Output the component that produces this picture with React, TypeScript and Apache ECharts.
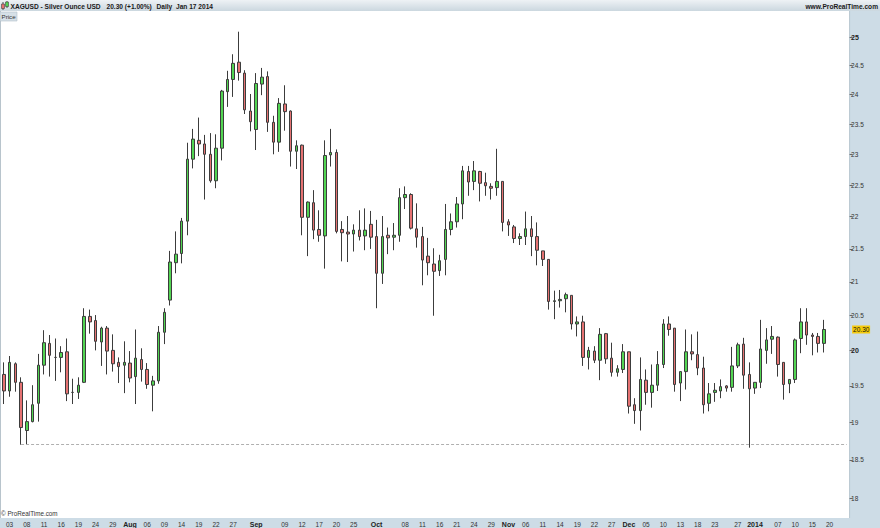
import React, { useEffect, useRef } from "react";
import * as echarts from "echarts";

// ---- Trading days (categories) ----
const julDays = [2, 3, 4, 5, 8, 9, 10, 11, 12, 15, 16, 17, 18, 19, 22, 23, 24, 25, 26, 29, 30, 31];
const augDays = [1, 2, 5, 6, 7, 8, 9, 12, 13, 14, 15, 16, 19, 20, 21, 22, 23, 26, 27, 28, 29, 30];
const sepDays = [2, 3, 4, 5, 6, 9, 10, 11, 12, 13, 16, 17, 18, 19, 20, 23, 24, 25, 26, 27, 30];
const octDays = [1, 2, 3, 4, 7, 8, 9, 10, 11, 14, 15, 16, 17, 18, 21, 22, 23, 24, 25, 28, 29, 30, 31];
const novDays = [1, 4, 5, 6, 7, 8, 11, 12, 13, 14, 15, 18, 19, 20, 21, 22, 25, 26, 27, 28, 29];
const decDays = [2, 3, 4, 5, 6, 9, 10, 11, 12, 13, 16, 17, 18, 19, 20, 23, 24, 25, 26, 27, 30, 31];
const janDays = [1, 2, 3, 6, 7, 8, 9, 10, 13, 14, 15, 16, 17, 20, 21, 22, 23];

// ---- OHLC values: [open, close, low, high] ----
const jul2013 = [
  [19.66, 19.43, 19.25, 19.83], [19.43, 19.83, 19.35, 19.92], [19.81, 19.55, 19.42, 19.83],
  [19.55, 18.93, 18.70, 19.62], [18.89, 19.01, 18.70, 19.30], [19.01, 19.24, 19.00, 19.51],
  [19.26, 19.79, 19.01, 19.95], [19.79, 20.11, 19.66, 20.29], [20.10, 19.93, 19.63, 20.22],
  [19.90, 19.90, 19.57, 20.17], [19.90, 19.97, 19.69, 20.06], [19.98, 19.39, 19.29, 20.17],
  [19.41, 19.41, 19.25, 19.60], [19.41, 19.51, 19.32, 19.62], [19.55, 20.49, 19.54, 20.61],
  [20.49, 20.41, 20.24, 20.59], [20.43, 20.13, 20.00, 20.51], [20.12, 20.32, 19.78, 20.34],
  [20.32, 19.99, 19.66, 20.35], [20.00, 19.81, 19.70, 20.23], [19.83, 19.77, 19.54, 19.90],
  [19.79, 19.83, 19.40, 20.13],
];
const aug2013 = [
  [19.82, 19.61, 19.55, 19.99], [19.63, 19.89, 19.25, 20.30], [19.87, 19.73, 19.56, 20.03],
  [19.73, 19.52, 19.46, 19.82], [19.51, 19.57, 19.15, 19.64], [19.57, 20.26, 19.53, 20.35],
  [20.26, 20.55, 20.09, 20.61], [20.73, 21.30, 20.65, 21.47], [21.29, 21.42, 21.13, 21.77],
  [21.43, 21.93, 21.28, 21.98], [21.93, 22.92, 21.71, 23.19], [22.92, 23.25, 22.77, 23.42],
  [23.23, 23.17, 22.97, 23.61], [23.17, 23.00, 22.27, 23.32], [23.00, 22.57, 22.54, 23.35],
  [22.57, 23.10, 22.45, 23.33], [23.10, 24.06, 22.90, 24.08], [24.05, 24.26, 23.79, 24.41],
  [24.26, 24.54, 23.96, 24.70], [24.56, 24.38, 24.24, 25.10], [24.37, 23.74, 23.67, 24.42],
  [23.72, 23.54, 23.38, 24.01],
];
const sep2013 = [
  [23.41, 24.19, 23.07, 24.37], [24.18, 24.30, 23.99, 24.46], [24.31, 23.53, 23.37, 24.40],
  [23.53, 23.20, 23.00, 23.64], [23.20, 23.85, 23.04, 23.94], [23.84, 23.71, 23.39, 24.16],
  [23.72, 23.05, 22.80, 23.73], [23.05, 23.14, 22.76, 23.23], [23.15, 21.99, 21.71, 23.16],
  [21.99, 22.23, 21.39, 22.24], [22.22, 21.79, 21.65, 22.42], [21.80, 21.71, 21.61, 22.10],
  [21.70, 22.98, 21.20, 23.23], [22.99, 23.03, 22.80, 23.42], [23.03, 21.77, 21.74, 23.08],
  [21.80, 21.75, 21.31, 21.93], [21.76, 21.73, 21.30, 22.01], [21.73, 21.79, 21.46, 21.88],
  [21.79, 21.69, 21.63, 22.10], [21.70, 21.79, 21.48, 22.13], [21.88, 21.68, 21.50, 22.09],
];
const oct2013 = [
  [21.69, 21.13, 20.61, 21.95], [21.13, 21.69, 20.97, 22.01], [21.71, 21.67, 21.42, 21.83],
  [21.68, 21.71, 21.48, 21.90], [21.71, 22.30, 21.61, 22.45], [22.30, 22.35, 22.12, 22.48],
  [22.35, 21.82, 21.80, 22.37], [21.81, 21.68, 21.52, 22.21], [21.69, 21.33, 20.95, 21.84],
  [21.39, 21.29, 21.10, 21.67], [21.27, 21.16, 20.50, 21.51], [21.17, 21.32, 21.09, 21.41],
  [21.34, 21.80, 21.10, 22.20], [21.80, 21.92, 21.71, 22.05], [21.92, 22.20, 21.83, 22.31],
  [22.20, 22.73, 21.96, 22.81], [22.72, 22.55, 22.33, 22.81], [22.56, 22.73, 22.42, 22.89],
  [22.72, 22.53, 22.24, 22.73], [22.54, 22.49, 22.33, 22.70], [22.48, 22.45, 22.27, 22.53],
  [22.46, 22.56, 22.33, 23.09], [22.56, 21.91, 21.77, 22.56],
];
const nov2013 = [
  [21.92, 21.87, 21.70, 21.96], [21.84, 21.66, 21.59, 21.87], [21.66, 21.69, 21.56, 21.74],
  [21.69, 21.81, 21.56, 22.08], [21.81, 21.69, 21.39, 22.01], [21.69, 21.48, 21.25, 21.91],
  [21.47, 21.34, 21.24, 21.47], [21.34, 20.71, 20.59, 21.34], [20.71, 20.72, 20.45, 20.87],
  [20.72, 20.74, 20.62, 20.88], [20.75, 20.81, 20.55, 20.84], [20.80, 20.38, 20.30, 20.80],
  [20.38, 20.41, 20.20, 20.49], [20.41, 19.90, 19.78, 20.50], [19.90, 20.00, 19.73, 20.05],
  [19.99, 19.86, 19.82, 20.06], [19.86, 20.23, 19.58, 20.32], [20.24, 19.88, 19.81, 20.25],
  [19.89, 19.69, 19.63, 20.11], [19.69, 19.74, 19.63, 19.79], [19.73, 19.98, 19.68, 20.09],
];
const dec2013 = [
  [19.98, 19.22, 19.12, 19.98], [19.24, 19.16, 18.98, 19.33], [19.16, 19.59, 18.89, 19.90],
  [19.58, 19.41, 19.24, 19.73], [19.41, 19.51, 19.20, 19.80], [19.51, 19.80, 19.43, 19.99],
  [19.80, 20.38, 19.75, 20.45], [20.38, 20.30, 20.21, 20.49], [20.32, 19.52, 19.42, 20.32],
  [19.54, 19.70, 19.29, 19.70], [19.70, 19.98, 19.45, 20.30], [19.98, 19.95, 19.86, 20.23],
  [19.94, 19.75, 19.65, 20.27], [19.75, 19.24, 19.12, 19.91], [19.26, 19.39, 19.15, 19.54],
  [19.41, 19.44, 19.28, 19.54], [19.43, 19.49, 19.33, 19.59], [19.50, 19.47, 19.42, 19.51],
  [19.48, 19.78, 19.42, 20.05], [19.78, 20.08, 19.75, 20.11], [20.09, 19.65, 19.46, 20.18],
  [19.66, 19.46, 18.66, 19.83],
];
const jan2014 = [
  [19.47, 19.55, 19.39, 19.55], [19.55, 20.02, 19.47, 20.44], [20.00, 20.15, 19.81, 20.32],
  [20.16, 20.20, 19.95, 20.35], [20.19, 19.80, 19.63, 20.20], [19.83, 19.52, 19.31, 19.83],
  [19.53, 19.59, 19.40, 19.59], [19.59, 20.15, 19.54, 20.17], [20.17, 20.41, 19.96, 20.61],
  [20.41, 20.22, 20.08, 20.61], [20.22, 20.20, 19.93, 20.25], [20.20, 20.10, 19.97, 20.25],
  [20.10, 20.30, 19.97, 20.44],
];

// ---- Axis tick labels ----
const yTicks = [18, 18.5, 19, 19.5, 20, 20.5, 21, 21.5, 22, 22.5, 23, 23.5, 24, 24.5, 25];
const yBoldTicks = [20, 25];
const xTickDates = [
  "2013-07-03", "2013-07-08", "2013-07-11", "2013-07-16", "2013-07-19", "2013-07-24", "2013-07-29",
  "2013-08-01", "2013-08-06", "2013-08-09", "2013-08-14", "2013-08-19", "2013-08-22", "2013-08-27",
  "2013-09-02", "2013-09-09", "2013-09-12", "2013-09-17", "2013-09-20", "2013-09-25",
  "2013-10-01", "2013-10-08", "2013-10-11", "2013-10-16", "2013-10-21", "2013-10-24", "2013-10-29",
  "2013-11-01", "2013-11-06", "2013-11-11", "2013-11-14", "2013-11-19", "2013-11-22", "2013-11-27",
  "2013-12-02", "2013-12-05", "2013-12-10", "2013-12-13", "2013-12-18", "2013-12-23", "2013-12-27",
  "2014-01-01", "2014-01-07", "2014-01-10", "2014-01-15", "2014-01-20",
];
const xTickTexts = [
  "03", "08", "11", "16", "19", "24", "29",
  "Aug", "06", "09", "14", "19", "22", "27",
  "Sep", "09", "12", "17", "20", "25",
  "Oct", "08", "11", "16", "21", "24", "29",
  "Nov", "06", "11", "14", "19", "22", "27",
  "Dec", "05", "10", "13", "18", "23", "27",
  "2014", "07", "10", "15", "20",
];

const pad = (n: number) => (n < 10 ? "0" + n : "" + n);
const monthDays: [number, number, number[]][] = [
  [2013, 7, julDays], [2013, 8, augDays], [2013, 9, sepDays], [2013, 10, octDays],
  [2013, 11, novDays], [2013, 12, decDays], [2014, 1, janDays],
];
const categories: string[] = [];
monthDays.forEach(([y, m, days]) => days.forEach((d) => categories.push(`${y}-${pad(m)}-${pad(d)}`)));
const ohlc = [...jul2013, ...aug2013, ...sep2013, ...oct2013, ...nov2013, ...dec2013, ...jan2014];

const FONT = "'Liberation Sans', Arial, Helvetica, sans-serif";
const PANEL = "#cddce6";

export default function App() {
  const ref = useRef<HTMLDivElement>(null);
  useEffect(() => {
    if (!ref.current) return;
    const chart = echarts.init(ref.current, undefined, { renderer: "svg" });
    const tickMap = new Map<string, string>();
    xTickDates.forEach((d, i) => tickMap.set(d, xTickTexts[i]));
    const supportLow = ohlc[3][2];
    const lastIdx = ohlc.length - 1;
    const lastClose = ohlc[lastIdx][1];

    const gridLeft = 1;
    const gridTop = 11;
    const gridWidth = 848.6;
    const gridHeight = 507;
    const gridRight = gridLeft + gridWidth;

    chart.setOption({
      animation: false,
      backgroundColor: "#ffffff",
      grid: { left: gridLeft, top: gridTop, width: gridWidth, height: gridHeight, containLabel: false },
      xAxis: {
        type: "category",
        data: categories,
        boundaryGap: true,
        axisLine: { show: false },
        axisTick: { show: false },
        splitLine: { show: false },
        axisLabel: {
          interval: (_i: number, v: string) => tickMap.has(v),
          formatter: (v: string) => {
            const t = tickMap.get(v) || "";
            return /^\d\d$/.test(t) ? t : `{b|${t}}`;
          },
          fontSize: 6.5,
          fontFamily: FONT,
          color: "#333",
          margin: 3,
          rich: { b: { fontWeight: "bold", fontSize: 7, fontFamily: FONT, color: "#222" } },
        },
      },
      yAxis: {
        type: "log",
        logBase: 10,
        position: "right",
        min: 17.748,
        max: 25.473,
        axisLine: { show: false },
        splitLine: { show: false },
        axisTick: { show: true, length: 3, customValues: yTicks, lineStyle: { color: "#666", width: 1 } },
        axisLabel: {
          customValues: yTicks,
          margin: 1.5,
          fontSize: 6.5,
          fontFamily: FONT,
          color: "#333",
          formatter: (v: number) => (yBoldTicks.indexOf(v) >= 0 ? `{b|${v}}` : `${v}`),
          rich: { b: { fontWeight: "bold", fontSize: 7, fontFamily: FONT, color: "#222" } },
        },
      },
      series: [
        {
          type: "candlestick",
          data: ohlc,
          barWidth: 3,
          silent: true,
          itemStyle: {
            color: "#52d452",
            color0: "#e57272",
            borderColor: "#3c3c3c",
            borderColor0: "#3c3c3c",
            borderWidth: 1,
          },
          markLine: {
            silent: true,
            symbol: ["none", "none"],
            label: { show: false },
            lineStyle: { color: "#b0b0b0", type: [3, 2], width: 1 },
            data: [[{ coord: [categories[3], supportLow] }, { coord: [categories[categories.length - 1], supportLow] }]],
          },
        },
        {
          type: "custom",
          silent: true,
          z: 10,
          data: [[lastIdx, lastClose]],
          renderItem: (params: any, api: any) => {
            const pt = api.coord([api.value(0), api.value(1)]);
            const cs = params.coordSys;
            const x0 = cs.x + cs.width + 2.5;
            return {
              type: "group",
              children: [
                { type: "rect", shape: { x: x0, y: pt[1] - 4, width: 18, height: 8 }, style: { fill: "#f5cb0c" } },
                {
                  type: "text",
                  style: {
                    x: x0 + 1, y: pt[1] + 0.5, text: api.value(1).toFixed(2),
                    fontSize: 6.5, fontFamily: FONT, fill: "#111",
                    verticalAlign: "middle", textVerticalAlign: "middle",
                  },
                },
              ],
            };
          },
        },
      ],
      graphic: [
        {
          type: "rect", z: -10, silent: true,
          shape: { x: 0, y: 0, width: 880, height: 11 },
          style: {
            fill: new echarts.graphic.LinearGradient(0, 0, 0, 1, [
              { offset: 0, color: "#eef2f5" },
              { offset: 1, color: "#cbd7df" },
            ]),
          },
        },
        { type: "rect", z: -10, silent: true, shape: { x: gridRight, y: 11, width: 880 - gridRight, height: 517 }, style: { fill: PANEL } },
        { type: "rect", z: -10, silent: true, shape: { x: 0, y: 518, width: 880, height: 10 }, style: { fill: PANEL } },
        { type: "line", z: -9, silent: true, shape: { x1: 0.5, y1: 11, x2: 0.5, y2: 518 }, style: { stroke: "#b8c4cc", lineWidth: 1 } },
        { type: "line", z: -9, silent: true, shape: { x1: gridRight, y1: 11, x2: gridRight, y2: 518 }, style: { stroke: "#b8c6d0", lineWidth: 1 } },
        // header icon
        { type: "line", silent: true, shape: { x1: 3, y1: 2, x2: 3, y2: 10 }, style: { stroke: "#555", lineWidth: 1 } },
        { type: "rect", silent: true, shape: { x: 1.5, y: 4, width: 3, height: 4.5 }, style: { fill: "#e57272", stroke: "#444", lineWidth: 0.6 } },
        { type: "line", silent: true, shape: { x1: 7, y1: 1, x2: 7, y2: 8 }, style: { stroke: "#555", lineWidth: 1 } },
        { type: "rect", silent: true, shape: { x: 5.5, y: 2, width: 3, height: 4.5 }, style: { fill: "#52d452", stroke: "#444", lineWidth: 0.6 } },
        // header texts
        { type: "text", silent: true, style: { x: 10.5, y: 6, text: "XAGUSD - Silver Ounce USD", fontSize: 6.6, fontWeight: "bold", fontFamily: FONT, fill: "#1a1a1a", textVerticalAlign: "middle", verticalAlign: "middle" } },
        { type: "text", silent: true, style: { x: 106.5, y: 6, text: "20.30 (+1.00%)", fontSize: 6.6, fontWeight: "bold", fontFamily: FONT, fill: "#1a1a1a", textVerticalAlign: "middle", verticalAlign: "middle" } },
        { type: "text", silent: true, style: { x: 156.5, y: 6, text: "Daily", fontSize: 6.6, fontWeight: "bold", fontFamily: FONT, fill: "#1a1a1a", textVerticalAlign: "middle", verticalAlign: "middle" } },
        { type: "text", silent: true, style: { x: 176, y: 6, text: "Jan 17 2014", fontSize: 6.6, fontWeight: "bold", fontFamily: FONT, fill: "#1a1a1a", textVerticalAlign: "middle", verticalAlign: "middle" } },
        { type: "text", silent: true, style: { x: 878, y: 6, text: "www.ProRealTime.com", fontSize: 6.6, fontWeight: "bold", fontFamily: FONT, fill: "#1a1a1a", textAlign: "right", align: "right", textVerticalAlign: "middle", verticalAlign: "middle" } },
        // "Price" tab
        { type: "rect", silent: true, shape: { x: 0, y: 12, width: 17, height: 9 }, style: { fill: "#d6e0e7", stroke: "#b3c0c9", lineWidth: 0.6 } },
        { type: "text", silent: true, style: { x: 1.5, y: 16.5, text: "Price", fontSize: 6.2, fontFamily: FONT, fill: "#333", textVerticalAlign: "middle", verticalAlign: "middle" } },
        // copyright
        { type: "text", silent: true, style: { x: 1, y: 513, text: "© ProRealTime.com", fontSize: 6.3, fontFamily: FONT, fill: "#333", textVerticalAlign: "middle", verticalAlign: "middle" } },
      ],
    });
    return () => chart.dispose();
  }, []);
  return <div ref={ref} style={{ position: "fixed", left: 0, top: 0, width: 880, height: 528 }} />;
}
